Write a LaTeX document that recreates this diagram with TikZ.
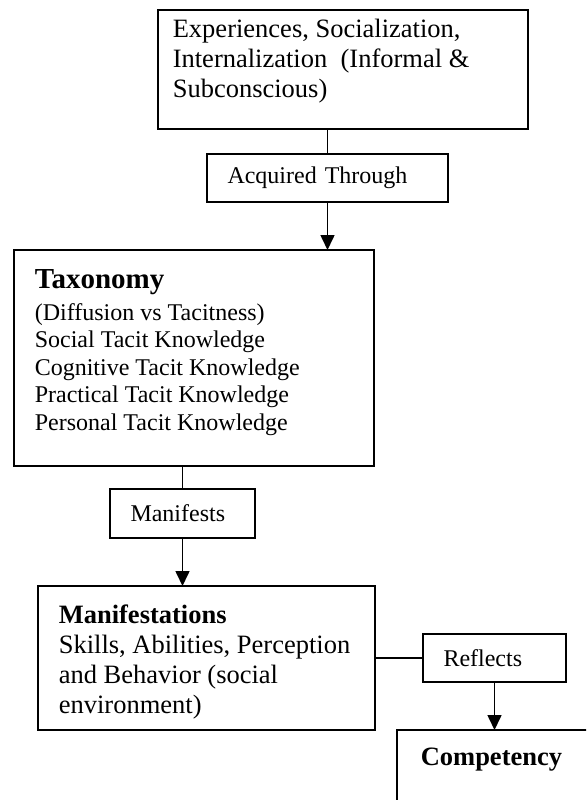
\documentclass[tikz,border=0pt]{standalone}
\usepackage{fontspec}
\setmainfont{Liberation Serif}
\usetikzlibrary{arrows.meta}

\tikzset{
  box/.style={draw, line width=1.6pt, inner sep=0pt, outer sep=0pt, anchor=north west},
  tag/.style={box, inner xsep=20.5pt, align=left, font=\fontsize{24}{27.4}\selectfont},
  txt/.style={inner sep=0pt, anchor=north west, align=left},
  arr/.style={-{Triangle[length=15pt,width=14pt]}}
}

\begin{document}
\begin{tikzpicture}[x=1pt,y=-1pt,line width=1.6pt]
\useasboundingbox (0,0) rectangle (586,800);
\clip (0,0) rectangle (586,800);

% boxes
\node[box, minimum width=370pt, minimum height=119pt] (exp) at (158,10) {};
\node[tag, text width=200pt, minimum height=48pt] (acq) at (207,154) {Acquired Through};
\node[box, minimum width=360pt, minimum height=216pt] (tax) at (14,250) {};
\node[tag, text width=104pt, minimum height=49pt] (mfs) at (110,489) {Manifests};
\node[box, minimum width=337pt, minimum height=144pt] (man) at (38,586) {};
\node[tag, text width=102pt, minimum height=48pt] (refl) at (423,634) {Reflects};
\node[box, minimum width=260pt, minimum height=140pt] (comp) at (397,730) {};

% texts
\node[txt, font=\fontsize{26.5}{30}\selectfont] (expText) at (172,18.5)
  {Experiences, Socialization,\\Internalization~ (Informal \&\\Subconscious)};
\node[txt, font=\fontsize{24}{27.4}\selectfont] (taxText) at (34,268.8)
  {{\fontsize{29}{32}\selectfont\bfseries Taxonomy}\\[4.6pt]
   (Diffusion vs Tacitness)\\
   Social Tacit Knowledge\\
   Cognitive Tacit Knowledge\\
   Practical Tacit Knowledge\\
   Personal Tacit Knowledge};
\node[txt, font=\fontsize{26.5}{30}\selectfont] (manText) at (58,603.7)
  {\textbf{Manifestations}\\Skills, Abilities, Perception\\and Behavior (social\\environment)};
\node[txt, font=\fontsize{26.5}{30}\selectfont\bfseries] (compText) at (420,747) {Competency};

% connectors
\draw (acq.north |- exp.south) -- (acq.north);
\draw[arr] (acq.south) -- (acq.south |- tax.north);
\draw (mfs.north |- tax.south) -- (mfs.north);
\draw[arr] (mfs.south) -- (mfs.south |- man.north);
\draw (man.east |- refl.west) -- (refl.west);
\draw[arr] (refl.south) -- (refl.south |- comp.north);
\end{tikzpicture}
\end{document}
